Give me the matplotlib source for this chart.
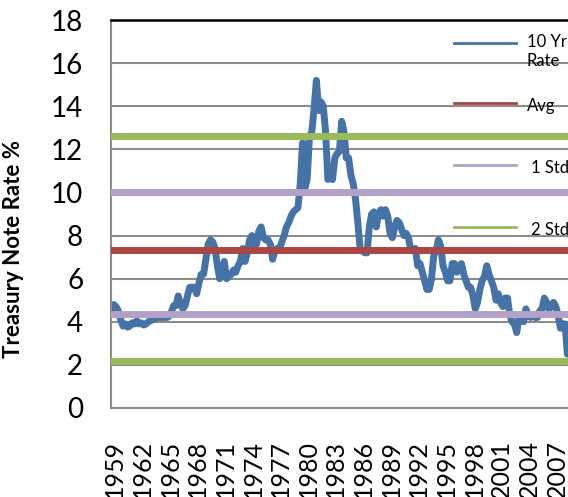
import numpy as np
import matplotlib
matplotlib.use('Agg')
import matplotlib.pyplot as plt
from matplotlib.lines import Line2D

plt.rcParams['font.family'] = ['Lato', 'DejaVu Sans']

# 10 yr treasury rate, quarterly (first point 1959 Q2)
start_year = 1959.375
rates = [
    4.55, 4.8, 4.7,
    4.5, 4.1, 3.8, 3.9,
    3.75, 3.8, 3.95, 3.9,
    4.05, 3.9, 3.95, 3.85,
    3.9, 4.0, 4.05, 4.1,
    4.15, 4.2, 4.2, 4.2,
    4.2, 4.2, 4.25, 4.45,
    4.75, 4.75, 5.2, 4.8,
    4.6, 4.75, 5.2, 5.6,
    5.6, 5.6, 5.3, 5.8,
    6.2, 6.2, 6.9, 7.6,
    7.8, 7.7, 7.4, 6.6,
    6.0, 6.2, 6.8, 6.0,
    6.1, 6.2, 6.4, 6.3,
    6.6, 6.8, 7.4, 6.8,
    7.2, 7.8, 8.0, 7.5,
    7.6, 8.2, 8.4, 7.9,
    7.8, 7.8, 7.6, 6.9,
    7.3, 7.4, 7.4, 7.7,
    8.0, 8.4, 8.6, 8.9,
    9.1, 9.2, 9.3, 10.4,
    12.3, 10.2, 10.6, 12.6,
    12.8, 13.9, 15.2, 13.8,
    14.2, 14.0, 12.8, 10.6,
    10.7, 10.6, 11.6, 11.8,
    11.9, 13.3, 12.8, 11.6,
    11.6, 10.8, 10.4, 9.7,
    8.6, 7.4, 7.3, 7.2,
    7.2, 8.4, 9.0, 9.1,
    8.4, 9.0, 9.2, 8.9,
    9.2, 8.9, 8.1, 7.9,
    8.4, 8.7, 8.6, 8.3,
    8.0, 8.1, 7.9, 7.3,
    7.3, 7.4, 6.6, 6.7,
    6.3, 5.9, 5.5, 5.5,
    6.0, 7.1, 7.3, 7.8,
    7.5, 6.6, 6.3, 5.9,
    5.9, 6.7, 6.7, 6.3,
    6.5, 6.7, 6.2, 5.9,
    5.6, 5.6, 5.2, 4.6,
    4.9, 5.5, 5.9, 6.1,
    6.6, 6.2, 5.9, 5.6,
    5.0, 5.3, 4.9, 4.7,
    5.1, 5.1, 4.3, 4.0,
    3.9, 3.5, 4.2, 4.3,
    4.0, 4.6, 4.3, 4.2,
    4.3, 4.2, 4.2, 4.5,
    4.6, 5.1, 4.9, 4.6,
    4.7, 4.9, 4.7, 4.3,
    3.7, 3.9, 3.9, 2.5,
]
dates = start_year + 0.25 * np.arange(len(rates))

avg = 7.35
std1 = [10.0, 4.35]
std2 = [12.6, 2.2]

tick_labels = [str(y) for y in range(1959, 2008, 3)]
tick_pos = [y + 0.75 for y in range(1959, 2008, 3)]

blue = '#4572A7'
red = '#AA4643'
purple = '#B3A2C7'
green = '#9BBB59'

fig = plt.figure(figsize=(5.68, 4.97), dpi=100)
ax = fig.add_axes([111 / 568, 89 / 497, 457 / 568, 388 / 497])

ax.plot(dates, rates, color=blue, lw=5, solid_joinstyle='round',
        solid_capstyle='round', zorder=2)
ax.axhline(avg, color=red, lw=5, zorder=3)
for v in std1:
    ax.axhline(v, color=purple, lw=5, zorder=3)
for v in std2:
    ax.axhline(v, color=green, lw=5, zorder=3)

ax.set_ylim(0, 18)
ax.set_xlim(1959.326, 2008.945)
ax.set_yticks(range(0, 19, 2))
ax.yaxis.grid(True, color='#8C8C8C', lw=1.5, zorder=0)
ax.set_axisbelow(True)
ax.set_xticks(tick_pos)
ax.set_xticklabels(tick_labels, rotation=90, va='top', ha='center')
ax.tick_params(axis='y', length=0, pad=20, labelsize=20)
ax.tick_params(axis='x', length=0, pad=23, labelsize=18)

ax.spines['right'].set_visible(False)
ax.spines['top'].set_color('black')
ax.spines['top'].set_linewidth(1.8)
for s in ['left', 'bottom']:
    ax.spines[s].set_color('#8C8C8C')
    ax.spines[s].set_linewidth(1.5)

ax.set_ylabel('Treasury Note Rate %', fontsize=16, fontweight='bold')
ax.yaxis.set_label_coords(-0.19, 0.41)

# legend, drawn by hand (it sits inside the plot area)
legend_items = [('10 Yr\nRate', blue, 43, 34, 527), ('Avg', red, 103, 106, 527),
                ('1 Std', purple, 165, 168, 531), ('2 Std', green, 227, 230, 531)]
for label, col, y_line, y_text, x_text in legend_items:
    fig.add_artist(Line2D([454 / 568, 516 / 568], [1 - y_line / 497, 1 - y_line / 497],
                          color=col, lw=2))
    if '\n' in label:
        fig.text(x_text / 568, 1 - y_text / 497, label, fontsize=12, va='top',
                 ha='left', linespacing=1.25)
    else:
        fig.text(x_text / 568, 1 - y_text / 497, label, fontsize=12, va='center',
                 ha='left')

fig.savefig('out.png', dpi=100)
